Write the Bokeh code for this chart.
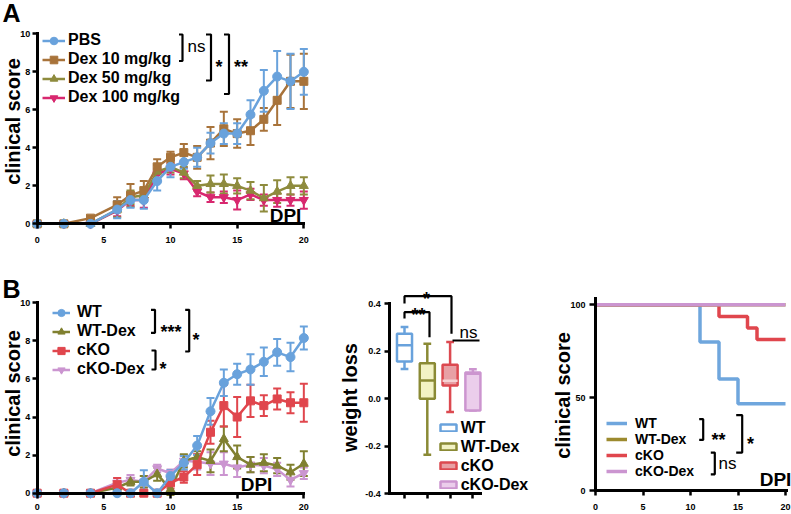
import math
from bokeh.plotting import figure
from bokeh.models import (ColumnDataSource, Whisker, TeeHead, Label, Legend, LegendItem,
                          FixedTicker, Range1d, PrintfTickFormatter)
from bokeh.layouts import column, row
from bokeh.embed import file_html
from bokeh.resources import INLINE

FONT = "Liberation Sans"

# ------------------------------------------------------------------ data
# Panel A: clinical score vs DPI
a_days = [0, 2, 4, 6, 7, 8, 9, 10, 11, 12, 13, 14, 15, 16, 17, 18, 19, 20]
a_labels = ["PBS", "Dex 10 mg/kg", "Dex 50 mg/kg", "Dex 100 mg/kg"]
a_pbs      = [0, 0, 0, 0.75, 1.25, 1.25, 2.25, 3.0, 3.25, 3.5, 4.25, 4.75, 4.75, 5.75, 7.0, 7.75, 7.5, 8.0]
a_pbs_err  = [0, 0, 0, 0.45, 0.4, 0.45, 0.5, 0.55, 0.35, 0.5, 0.55, 0.55, 0.55, 0.75, 1.1, 1.35, 1.45, 1.2]
a_d10      = [0, 0, 0.3, 1.0, 1.5, 1.75, 3.0, 3.5, 3.75, 3.5, 4.25, 5.0, 4.75, 4.9, 5.5, 6.5, 7.5, 7.5]
a_d10_err  = [0, 0, 0.1, 0.4, 0.6, 0.5, 0.4, 0.3, 0.45, 0.6, 0.85, 0.9, 0.75, 0.75, 0.6, 1.3, 1.4, 1.45]
a_d50      = [0, 0, 0, 0.75, 1.4, 1.5, 2.75, 3.0, 2.7, 2.0, 2.1, 2.1, 2.0, 1.75, 1.35, 1.7, 2.0, 2.0]
a_d50_err  = [0, 0, 0, 0.4, 0.35, 0.35, 0.35, 0.3, 0.3, 0.25, 0.45, 0.5, 0.4, 0.45, 0.7, 0.6, 0.45, 0.45]
a_d100     = [0, 0, 0, 0.7, 1.25, 1.25, 2.6, 2.9, 2.65, 1.7, 1.4, 1.4, 1.25, 1.55, 1.25, 1.25, 1.25, 1.25]
a_d100_err = [0, 0, 0, 0.3, 0.3, 0.4, 0.3, 0.3, 0.3, 0.25, 0.25, 0.3, 0.5, 0.3, 0.3, 0.35, 0.3, 0.45]

# Panel B (left): clinical score vs DPI
b_days = [0, 2, 4, 6, 7, 8, 9, 10, 11, 12, 13, 14, 15, 16, 17, 18, 19, 20]
b_labels = ["WT", "WT-Dex", "cKO", "cKO-Dex"]
b_wt      = [0, 0, 0, 0, 0, 0.6, 0, 0.9, 1.6, 2.5, 4.3, 5.8, 6.25, 6.5, 6.9, 7.4, 7.15, 8.15]
b_wt_err  = [0, 0, 0, 0, 0, 0.6, 0, 0.3, 0.35, 0.5, 0.7, 0.7, 0.55, 0.8, 0.75, 0.7, 0.75, 0.6]
b_wtd     = [0, 0, 0, 0.3, 0.6, 0.6, 1.0, 0.2, 1.7, 1.9, 1.7, 2.85, 1.9, 1.5, 1.6, 1.45, 1.1, 1.55]
b_wtd_err = [0, 0, 0, 0.2, 0.2, 0.3, 0.35, 0.3, 0.35, 0.3, 0.6, 0.65, 0.6, 0.4, 0.45, 0.4, 0.4, 0.65]
b_cko     = [0, 0, 0, 0.45, 0, 0, 0, 0.55, 0.85, 1.5, 3.2, 4.6, 4.0, 4.85, 4.6, 4.95, 4.75, 4.75]
b_cko_err = [0, 0, 0, 0.35, 0, 0.15, 0, 0.3, 0.3, 0.55, 0.6, 1.1, 1.05, 0.85, 0.55, 0.55, 0.55, 1.0]
b_ckd     = [0, 0, 0, 0.55, 0.7, 0.6, 1.3, 1.05, 1.7, 1.65, 1.55, 1.55, 1.35, 1.5, 1.45, 1.25, 0.7, 1.05]
b_ckd_err = [0, 0, 0, 0.25, 0.25, 0.3, 0.2, 0.2, 0.3, 0.4, 0.6, 0.6, 0.5, 0.4, 0.4, 0.35, 0.35, 0.3]

# Panel B (middle): weight loss box plot statistics
wl_groups = ["WT", "WT-Dex", "cKO", "cKO-Dex"]
wl_low  = [0.126, -0.236, -0.056, -0.049]
wl_q1   = [0.157, 0.0, 0.056, -0.049]
wl_med  = [0.225, 0.077, 0.076, 0.105]
wl_q3   = [0.274, 0.150, 0.143, 0.111]
wl_high = [0.302, 0.232, 0.239, 0.124]
wl_ticks = [-0.4, -0.2, 0.0, 0.2, 0.4]

# Panel B (right): step curves
s_labels = ["WT", "WT-Dex", "cKO", "cKO-Dex"]
s_wt_t  = [0, 11, 13, 15, 20]
s_wt_v  = [100, 80, 60, 46.7, 46.7]
s_wtd_t = [0, 20]
s_wtd_v = [100, 100]
s_cko_t = [0, 13, 16, 17, 20]
s_cko_v = [100, 93.75, 87.5, 81.25, 81.25]
s_ckd_t = [0, 20]
s_ckd_v = [100, 100]

day_ticks = [0, 5, 10, 15, 20]
score_ticks = [0, 2, 4, 6, 8, 10]
surv_ticks = [0, 50, 100]

# ------------------------------------------------------------------ styles
BLUE = "#69A2DC"
BROWN = "#A8733A"
OLIVE_A = "#8E8B3D"
MAGENTA = "#D8286F"
OLIVE_B = "#808030"
RED = "#E0464D"
LILAC = "#CB95D0"
S_OLIVE = "#9C8A2E"


def mapper(x0, xs, y0, ys):
    """page pixel -> data coordinate converters"""
    return (lambda px: (px - x0) / xs), (lambda py: (y0 - py) / ys)


def make_fig(box, X, Y):
    l, r, t, b = box          # page box of the whole figure (frame fills it)
    p = figure(width=r - l, height=b - t,
               x_range=Range1d(X(l), X(r)), y_range=Range1d(Y(b), Y(t)),
               output_backend="svg", toolbar_location=None,
               min_border_left=0, min_border_right=0, min_border_top=0, min_border_bottom=0)
    p.outline_line_color = None
    p.grid.visible = False
    p.background_fill_color = "white"
    p.border_fill_color = "white"
    return p


def style_axis(ax, ticks, standoff, loc, bounds, tick_out=5, size="9px"):
    ax.fixed_location = loc
    ax.bounds = bounds
    ax.ticker = FixedTicker(ticks=ticks)
    ax.axis_line_width = 3
    ax.axis_line_color = "black"
    ax.axis_line_cap = "square"
    ax.major_tick_line_width = 2.5
    ax.major_tick_line_color = "black"
    ax.major_tick_in = 0
    ax.major_tick_out = tick_out
    ax.minor_tick_line_color = None
    ax.major_label_standoff = standoff
    ax.major_label_text_font = FONT
    ax.major_label_text_font_style = "bold"
    ax.major_label_text_font_size = size
    ax.major_label_text_color = "black"


def text(p, X, Y, x, y, s, size, style="bold", angle=0.0, baseline="middle", align="center"):
    p.add_layout(Label(x=X(x), y=Y(y), text=s, angle=angle, text_font=FONT,
                       text_font_size=size, text_font_style=style, text_align=align,
                       text_baseline=baseline, text_color="black"))


def bracket(p, X, Y, x, y0, y1, tick, lw=2.2):
    p.line([X(x - tick), X(x), X(x), X(x - tick)], [Y(y0), Y(y0), Y(y1), Y(y1)],
           line_color="black", line_width=lw)


def series(p, x, y, err, color, marker, size):
    src = ColumnDataSource(dict(x=x, y=y,
                                lo=[a - e for a, e in zip(y, err)],
                                hi=[a + e for a, e in zip(y, err)]))
    p.add_layout(Whisker(source=src, base="x", upper="hi", lower="lo", dimension="height",
                         line_color=color, line_width=2,
                         upper_head=TeeHead(size=8, line_color=color, line_width=2),
                         lower_head=TeeHead(size=8, line_color=color, line_width=2)))
    r1 = p.line("x", "y", source=src, line_color=color, line_width=2.5)
    r2 = p.scatter("x", "y", source=src, marker=marker, size=size,
                   fill_color=color, line_color=color)
    return [r1, r2]


def legend(items, box, glyph_left, first_center, item_h, glyph_w, glyph_h, standoff,
           spacing=0, label_h=None, size="16px"):
    l, r, t, b = box
    n = len(items)
    height = n * item_h + (n - 1) * spacing
    top = first_center - item_h / 2.0
    vx = glyph_left - l
    vy = b - top - height
    return Legend(items=items, location=(vx, vy), glyph_width=glyph_w, glyph_height=glyph_h,
                  label_height=label_h if label_h is not None else item_h,
                  spacing=spacing, padding=0, margin=0, label_standoff=standoff,
                  border_line_alpha=0, background_fill_alpha=0,
                  label_text_font=FONT, label_text_font_style="bold",
                  label_text_font_size=size, label_text_color="black")


# ------------------------------------------------------------------ Panel A
A_BOX = (0, 340, 0, 262)
AX, AY = mapper(36.67, 13.333, 223.33, 19.0)
pA = make_fig(A_BOX, AX, AY)
style_axis(pA.xaxis[0], day_ticks, 8, 0, (0, 20))
style_axis(pA.yaxis[0], score_ticks, 2, 0, (0, 10))

rA_d100 = series(pA, a_days, a_d100, a_d100_err, MAGENTA, "inverted_triangle", 9)
rA_d50 = series(pA, a_days, a_d50, a_d50_err, OLIVE_A, "triangle", 9)
rA_d10 = series(pA, a_days, a_d10, a_d10_err, BROWN, "square", 8)
rA_pbs = series(pA, a_days, a_pbs, a_pbs_err, BLUE, "circle", 9)

pA.add_layout(legend([LegendItem(label=a_labels[0], renderers=rA_pbs),
                      LegendItem(label=a_labels[1], renderers=rA_d10),
                      LegendItem(label=a_labels[2], renderers=rA_d50),
                      LegendItem(label=a_labels[3], renderers=rA_d100)],
                     A_BOX, 42, 40, 19, 23, 19, 3))

text(pA, AX, AY, 11, 12, "A", "25px")
text(pA, AX, AY, 12, 121, "clinical score", "20px", angle=math.pi / 2)
text(pA, AX, AY, 285, 214.5, "DPI", "19px")
bracket(pA, AX, AY, 182, 34, 60.5, 3.5)
bracket(pA, AX, AY, 210.5, 34, 80, 5)
bracket(pA, AX, AY, 228.5, 34, 93.5, 5)
text(pA, AX, AY, 196, 46, "ns", "17px", style="normal")
text(pA, AX, AY, 218.5, 66, "*", "18px", baseline="alphabetic")
text(pA, AX, AY, 240.5, 66, "**", "18px", baseline="alphabetic")

# ------------------------------------------------------------------ Panel B left
B1_BOX = (0, 330, 262, 514)
BX, BY = mapper(36.67, 13.333, 492.7, 19.04)
pB1 = make_fig(B1_BOX, BX, BY)
style_axis(pB1.xaxis[0], day_ticks, 6, 0, (0, 20))
style_axis(pB1.yaxis[0], score_ticks, 2, 0, (0, 10))

rB_ckd = series(pB1, b_days, b_ckd, b_ckd_err, LILAC, "inverted_triangle", 9)
rB_wtd = series(pB1, b_days, b_wtd, b_wtd_err, OLIVE_B, "triangle", 9)
rB_cko = series(pB1, b_days, b_cko, b_cko_err, RED, "square", 8)
rB_wt = series(pB1, b_days, b_wt, b_wt_err, BLUE, "circle", 9)

pB1.add_layout(legend([LegendItem(label=b_labels[0], renderers=rB_wt),
                       LegendItem(label=b_labels[1], renderers=rB_wtd),
                       LegendItem(label=b_labels[2], renderers=rB_cko),
                       LegendItem(label=b_labels[3], renderers=rB_ckd)],
                      B1_BOX, 52, 312, 19, 18, 19, 7))

text(pB1, BX, BY, 11, 288, "B", "25px")
text(pB1, BX, BY, 12, 393, "clinical score", "20px", angle=math.pi / 2)
text(pB1, BX, BY, 256, 484, "DPI", "19px")
bracket(pB1, BX, BY, 154.5, 309.3, 332.3, 4)
bracket(pB1, BX, BY, 188.7, 309.3, 351, 4)
bracket(pB1, BX, BY, 155, 350, 369, 4)
text(pB1, BX, BY, 170.5, 331.5, "***", "18px", baseline="alphabetic")
text(pB1, BX, BY, 195.5, 339.7, "*", "18px", baseline="alphabetic")
text(pB1, BX, BY, 162.5, 368, "*", "18px", baseline="alphabetic")

# ------------------------------------------------------------------ Panel B middle (box plot)
B2_BOX = (330, 540, 262, 514)
CX, CY = mapper(404 - 22.8, 22.8, 398.3, 237.5)
pB2 = make_fig(B2_BOX, CX, CY)
style_axis(pB2.xaxis[0], [1, 2, 3, 4], 3, -0.4, (CX(389.3), CX(480)))
style_axis(pB2.yaxis[0], wl_ticks, 4, CX(389.3), (-0.4, 0.4))
pB2.xaxis.major_label_overrides = {1: "", 2: "", 3: "", 4: ""}
pB2.yaxis.formatter = PrintfTickFormatter(format="%.1f")

box_line = [BLUE, "#8A8A35", "#DC4950", "#CC95CF"]
box_fill = ["white", "#F2F2C4", "#E8A0A5", "#EBCDEB"]
box_med = [BLUE, "#8A8A35", "#F6D2D4", "#CC95CF"]
pos = [i + 1 for i in range(len(wl_groups))]
box_src = ColumnDataSource(dict(x=pos, low=wl_low, q1=wl_q1, med=wl_med, q3=wl_q3, high=wl_high,
                                line=box_line, fill=box_fill, medc=box_med,
                                cl=[v - 0.17 for v in pos], cr=[v + 0.17 for v in pos],
                                bl=[v - 0.33 for v in pos], br=[v + 0.33 for v in pos]))
pB2.segment("x", "q3", "x", "high", source=box_src, line_color="line", line_width=2.5)
pB2.segment("x", "low", "x", "q1", source=box_src, line_color="line", line_width=2.5)
pB2.segment("cl", "high", "cr", "high", source=box_src, line_color="line", line_width=2.5)
pB2.segment("cl", "low", "cr", "low", source=box_src, line_color="line", line_width=2.5)
box_r = []
for i in range(len(wl_groups)):
    src_i = ColumnDataSource(dict(x=[pos[i]], q1=[wl_q1[i]], q3=[wl_q3[i]]))
    box_r.append(pB2.vbar(x="x", bottom="q1", top="q3", width=0.66, source=src_i,
                          fill_color=box_fill[i], line_color=box_line[i], line_width=2.5))
pB2.segment("bl", "med", "br", "med", source=box_src, line_color="medc", line_width=2.5)

pB2.add_layout(legend([LegendItem(label=wl_groups[i], renderers=[box_r[i]]) for i in range(4)],
                      B2_BOX, 437.7, 427.7, 19, 20, 9, 3))

text(pB2, CX, CY, 349, 397, "weight loss", "20px", angle=math.pi / 2)
pB2.line([CX(404), CX(404), CX(451), CX(451)], [CY(303), CY(295.7), CY(295.7), CY(333.3)],
         line_color="black", line_width=2.2)
pB2.line([CX(404), CX(404), CX(429), CX(429)], [CY(318), CY(311.7), CY(311.7), CY(336.7)],
         line_color="black", line_width=2.2)
pB2.line([CX(452), CX(479)], [CY(340), CY(340)], line_color="black", line_width=2.2)
text(pB2, CX, CY, 426, 298.7, "*", "18px", baseline="alphabetic")
text(pB2, CX, CY, 418, 314.7, "**", "18px", baseline="alphabetic")
text(pB2, CX, CY, 468, 331.7, "ns", "17px", style="normal")

# ------------------------------------------------------------------ Panel B right (steps)
B3_BOX = (540, 791, 262, 514)
SX, SY = mapper(595, 9.5, 490, 1.857)
pB3 = make_fig(B3_BOX, SX, SY)
style_axis(pB3.xaxis[0], day_ticks, 8, 0, (0, 20.1))
style_axis(pB3.yaxis[0], surv_ticks, 4, 0, (0, SY(298)), tick_out=6)

rS_wt = pB3.step(s_wt_t, s_wt_v, mode="after", line_color="#6FA6DD", line_width=3.5)
rS_cko = pB3.step(s_cko_t, s_cko_v, mode="after", line_color=RED, line_width=3.5)
rS_wtd = pB3.step(s_wtd_t, s_wtd_v, mode="after", line_color=S_OLIVE, line_width=3.5)
rS_ckd = pB3.step(s_ckd_t, s_ckd_v, mode="after", line_color=LILAC, line_width=3.5)

# one legend per entry so the tight row pitch of the reference can be kept
s_rows = [422.7, 438.9, 455.1, 471.3]
for lab, rend, yc in zip(s_labels, [rS_wt, rS_wtd, rS_cko, rS_ckd], s_rows):
    pB3.add_layout(legend([LegendItem(label=lab, renderers=[rend])],
                          B3_BOX, 606, yc, 18, 21, 18, 8, size="14px"))

r0, r1, r2, r3 = s_rows
text(pB3, SX, SY, 562.5, 395, "clinical score", "20px", angle=math.pi / 2)
text(pB3, SX, SY, 775, 479, "DPI", "19px")
bracket(pB3, SX, SY, 702.7, r0 - 4, r1 + 0.5, 4)
bracket(pB3, SX, SY, 741.7, r0 - 8, r2 - 3, 6)
bracket(pB3, SX, SY, 714.3, r2 - 3, r3 + 2.5, 4)
text(pB3, SX, SY, 718, (r0 + r1) / 2 + 8.5, "**", "18px", baseline="alphabetic")
text(pB3, SX, SY, 750, (r0 + r2) / 2 - 5.5 + 9.7, "*", "18px", baseline="alphabetic")
text(pB3, SX, SY, 727, (r2 + r3) / 2, "ns", "17px", style="normal")

layout = column(pA, row(pB1, pB2, pB3, spacing=0), spacing=0)
open("out.html", "w").write(file_html(layout, INLINE))
